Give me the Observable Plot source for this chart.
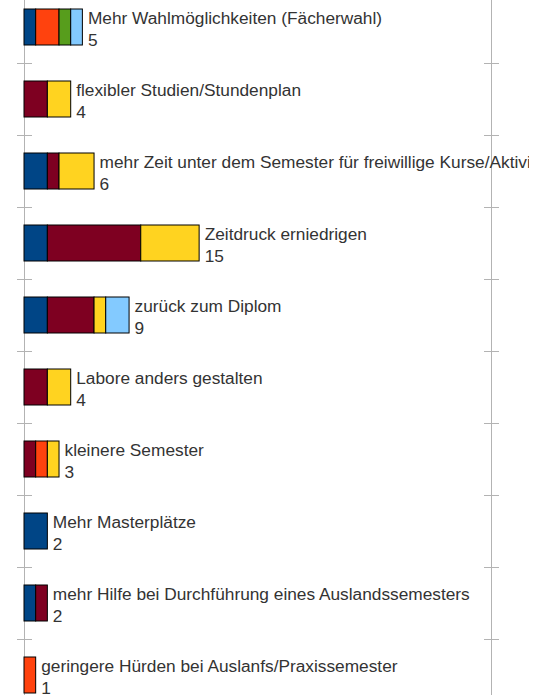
<!DOCTYPE html>
<html>
<head>
<meta charset="utf-8">
<script src="https://cdn.jsdelivr.net/npm/d3@7"></script>
<script src="https://cdn.jsdelivr.net/npm/@observablehq/plot@0.6"></script>
<style>
  html, body { margin: 0; padding: 0; background: white; }
  #chart { width: 529px; height: 695px; overflow: hidden; }
  #chart svg { font-family: "Liberation Sans", Arial, sans-serif; max-width: none !important; }
</style>
</head>
<body>
<div id="chart"></div>
<script>
const categories = [
  "Mehr Wahlmöglichkeiten (Fächerwahl)",
  "flexibler Studien/Stundenplan",
  "mehr Zeit unter dem Semester für freiwillige Kurse/Aktivitäten",
  "Zeitdruck erniedrigen",
  "zurück zum Diplom",
  "Labore anders gestalten",
  "kleinere Semester",
  "Mehr Masterplätze",
  "mehr Hilfe bei Durchführung eines Auslandssemesters",
  "geringere Hürden bei Auslanfs/Praxissemester"
];
const seriesNames = ["Serie 1", "Serie 2", "Serie 3", "Serie 4", "Serie 5", "Serie 6"];
const seriesColors = ["#004586", "#7e0021", "#ff420e", "#ffd320", "#579d1c", "#83caff"];
const serie1 = [1, 0, 2, 2, 2, 0, 0, 2, 1, 0];
const serie2 = [0, 2, 1, 8, 4, 2, 1, 0, 1, 0];
const serie3 = [2, 0, 0, 0, 0, 0, 1, 0, 0, 1];
const serie4 = [0, 2, 3, 5, 1, 2, 1, 0, 0, 0];
const serie5 = [1, 0, 0, 0, 0, 0, 0, 0, 0, 0];
const serie6 = [1, 0, 0, 0, 2, 0, 0, 0, 0, 0];
const xMax = 40;

const seriesValues = [serie1, serie2, serie3, serie4, serie5, serie6];
const data = [];
categories.forEach((c, i) => {
  seriesValues.forEach((vals, s) => {
    if (vals[i] > 0) data.push({category: c, series: seriesNames[s], value: vals[i]});
  });
});
const totals = categories.map((c, i) => ({
  category: c,
  total: d3.sum(seriesValues, v => v[i])
}));

const W = 550, H = 695;
const yRange = [-9, 711];
const step = (yRange[1] - yRange[0]) / categories.length;
const boundaries = categories.slice(0, -1);
const grid = "#b3b3b3";

const chart = Plot.plot({
  width: W,
  height: H,
  marginTop: 0,
  marginBottom: 0,
  marginLeft: 24,
  marginRight: 59,
  style: {background: "white", overflow: "hidden"},
  x: {domain: [0, xMax], range: [24, 491], axis: null},
  y: {domain: categories, range: yRange, paddingInner: 0.5, paddingOuter: 0.25, axis: null},
  color: {domain: seriesNames, range: seriesColors},
  marks: [
    Plot.ruleX([0, xMax], {stroke: grid, strokeWidth: 1}),
    Plot.ruleY(boundaries, {y: d => d, x1: 0, x2: 0, insetLeft: -7, insetRight: -8, dy: step / 2, stroke: grid}),
    Plot.ruleY(boundaries, {y: d => d, x1: xMax, x2: xMax, insetLeft: -7, insetRight: -8, dy: step / 2, stroke: grid}),
    Plot.barX(data, {y: "category", x: "value", fill: "series", stroke: "#000", strokeWidth: 1}),
    Plot.text(totals, {
      x: "total", y: "category",
      text: d => d.category + "\n" + d.total,
      textAnchor: "start", dx: 5,
      fontSize: 17.3, lineHeight: 1.28, fill: "#333"
    })
  ]
});
document.getElementById("chart").appendChild(chart);
</script>
</body>
</html>
